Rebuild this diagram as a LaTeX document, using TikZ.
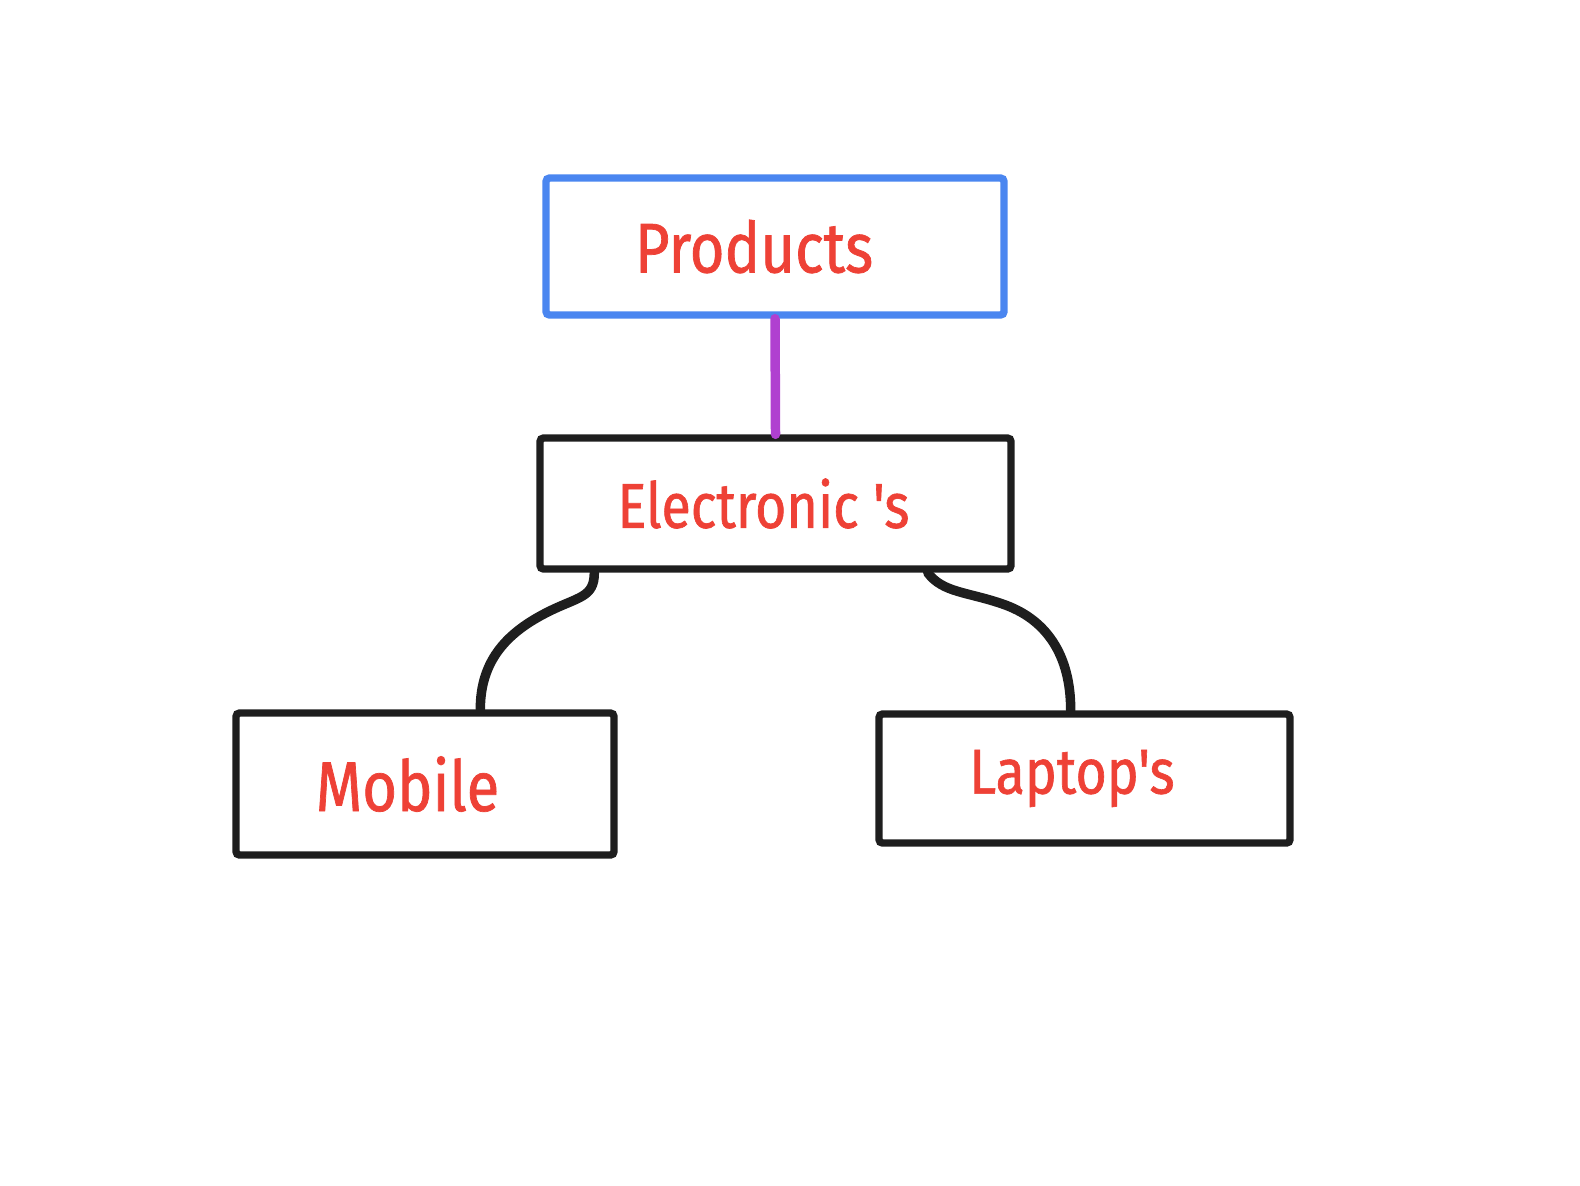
\documentclass[tikz,border=0pt]{standalone}
\usepackage{fontspec}
\setmainfont{Fira Sans}[FakeStretch=0.85,FakeBold=1,Ligatures=TeXOff]
\definecolor{boxblue}{HTML}{4A86F0}
\definecolor{linkpurple}{HTML}{B040D0}
\definecolor{textred}{HTML}{EE4136}
\definecolor{inkblack}{HTML}{1E1E1E}

\begin{document}
\begin{tikzpicture}
[every node/.style={draw=inkblack,line width=2.1pt,rounded corners=1pt,text=textred,inner sep=0pt},
 link/.style={draw=inkblack,line width=2.7pt,line cap=round}]
\useasboundingbox (0,0) rectangle (15.8,-11.85);
\node[draw=boxblue,minimum width=4.58cm,minimum height=1.37cm,font=\fontsize{20}{24}\selectfont] (products) at (7.75,-2.465) {Products\kern0.42cm};
\node[minimum width=4.71cm,minimum height=1.31cm,font=\fontsize{18}{22}\selectfont] (electronics) at (7.755,-5.035) {Electronic 's\kern0.24cm};
\node[minimum width=3.78cm,minimum height=1.42cm,font=\fontsize{20}{24}\selectfont] (mobile) at (4.25,-7.84) {Mobile\kern0.35cm};
\node[minimum width=4.11cm,minimum height=1.29cm,font=\fontsize{18}{22}\selectfont] (laptops) at (10.845,-7.785) {Laptop's\kern0.25cm};
\draw[linkpurple,line width=2.7pt,line cap=round] (products.south) -- (electronics.north);
\draw[link] ([xshift=0.58cm]electronics.south west) .. controls +(0,-0.25) and +(0.3,0.15) .. ++(-0.46,-0.39)
  .. controls +(-0.4,-0.2) and +(0,0.5) .. ([xshift=2.48cm]mobile.north west);
\draw[link] ([xshift=-0.87cm]electronics.south east) .. controls +(0.15,-0.2) and +(-0.35,0.12) .. ++(0.74,-0.31)
  .. controls +(0.45,-0.15) and +(0,0.55) .. ([xshift=-2.23cm]laptops.north east);
\end{tikzpicture}
\end{document}
